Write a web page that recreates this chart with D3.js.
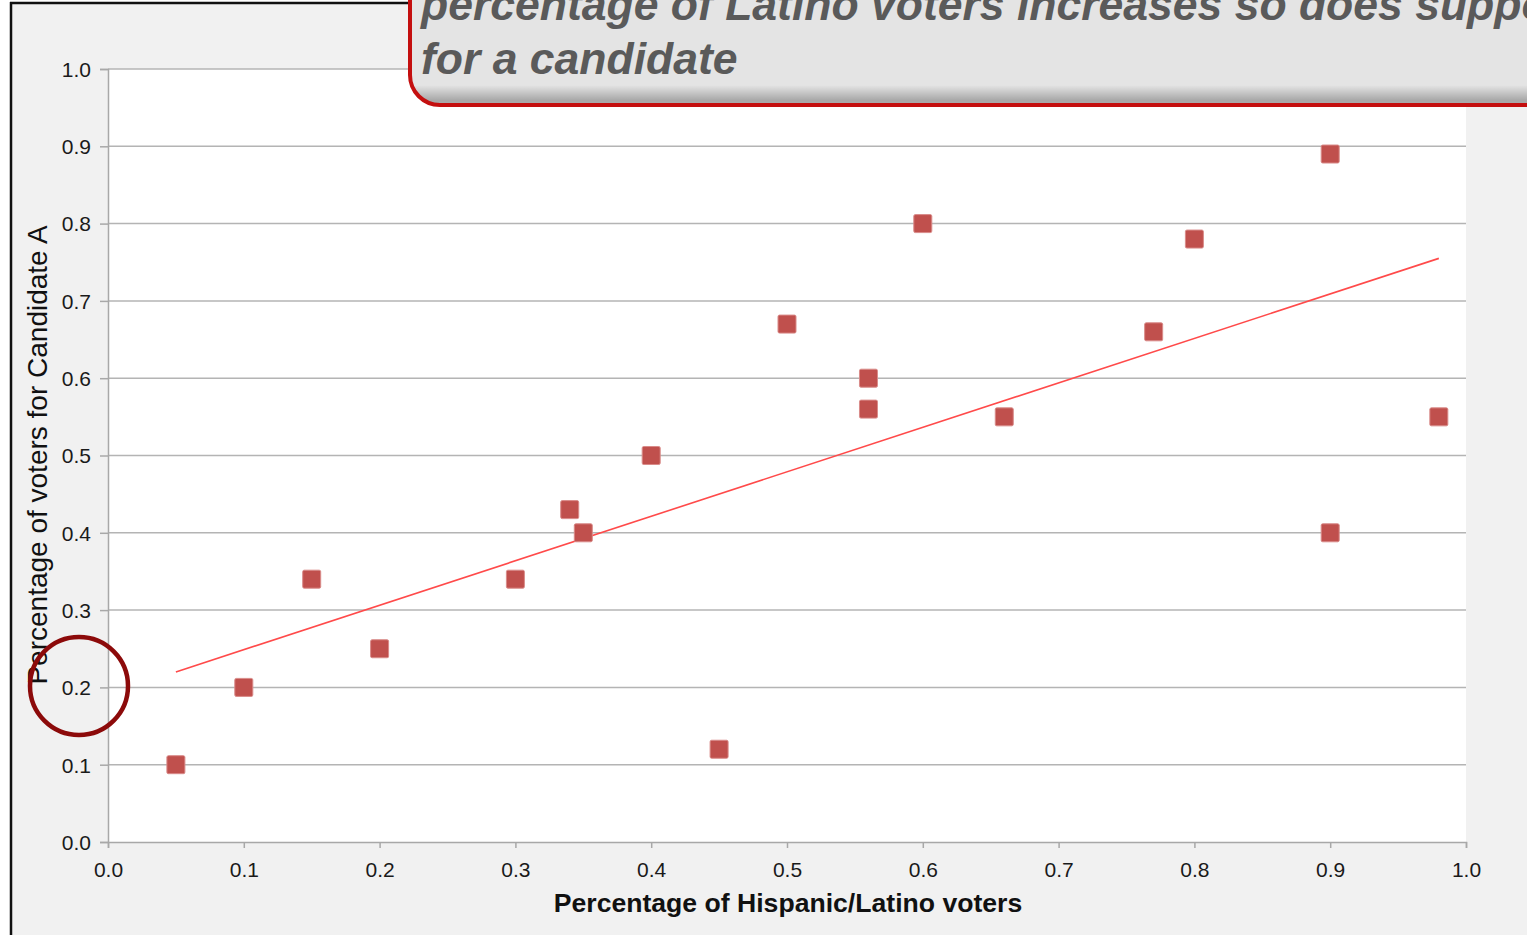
<!DOCTYPE html>
<html>
<head>
<meta charset="utf-8">
<title>Latino voters and support for Candidate A</title>
<script src="https://d3js.org/d3.v7.min.js"></script>
<style>
  body { margin: 0; background: #fff; overflow: hidden; }
  svg text { font-family: "Liberation Sans", Arial, sans-serif; }
</style>
</head>
<body>
<svg id="chart" width="1527" height="935"></svg>
<script>
// data
var latinoShare = [0.05, 0.10, 0.15, 0.20, 0.30, 0.34, 0.35, 0.40, 0.45, 0.50, 0.56, 0.56, 0.60, 0.66, 0.77, 0.80, 0.90, 0.90, 0.98];
var supportA    = [0.10, 0.20, 0.34, 0.25, 0.34, 0.43, 0.40, 0.50, 0.12, 0.67, 0.60, 0.56, 0.80, 0.55, 0.66, 0.78, 0.89, 0.40, 0.55];
var trendX = [0.05, 0.98];
var trendY = [0.22, 0.755];
var tickValues = [0, 0.1, 0.2, 0.3, 0.4, 0.5, 0.6, 0.7, 0.8, 0.9, 1.0];
var calloutLines = ["percentage of Latino voters increases so does support", "for a candidate"];

var svg = d3.select("#chart");
var pLeft = 108, pRight = 1466, pTop = 69, pBottom = 842;

// slide background + frame
svg.append("rect").attr("x", 11).attr("y", 3).attr("width", 1527).attr("height", 935).attr("fill", "#f1f1f1");
svg.append("line").attr("x1", 11).attr("x2", 11).attr("y1", 2).attr("y2", 935).attr("stroke", "#111").attr("stroke-width", 2.5);
svg.append("line").attr("x1", 10).attr("x2", 420).attr("y1", 3).attr("y2", 3).attr("stroke", "#111").attr("stroke-width", 2.5);

var x = d3.scaleLinear().domain([0, 1]).range([pLeft, pRight]);
var y = d3.scaleLinear().domain([0, 1]).range([pBottom, pTop]);

// plot area
svg.append("rect").attr("x", pLeft).attr("y", pTop).attr("width", pRight - pLeft).attr("height", pBottom - pTop).attr("fill", "#fff");

// gridlines
svg.append("g").selectAll("line").data(tickValues.slice(1)).enter().append("line")
  .attr("x1", pLeft).attr("x2", pRight).attr("y1", d => y(d)).attr("y2", d => y(d))
  .attr("stroke", "#b4b4b4").attr("stroke-width", 1.5);

// y axis
var yAxis = svg.append("g").attr("transform", "translate(" + pLeft + ",0)")
  .call(d3.axisLeft(y).tickValues(tickValues).tickFormat(d3.format(".1f")).tickSize(8).tickPadding(9));
// x axis
var xAxis = svg.append("g").attr("transform", "translate(0," + pBottom + ")")
  .call(d3.axisBottom(x).tickValues(tickValues).tickFormat(d3.format(".1f")).tickSize(6).tickPadding(14));
[yAxis, xAxis].forEach(function(a) {
  a.attr("font-size", 21);
  a.select(".domain").attr("stroke", "#a8a8a8").attr("stroke-width", 1.5);
  a.selectAll(".tick line").attr("stroke", "#a8a8a8").attr("stroke-width", 1.5);
  a.selectAll(".tick text").attr("fill", "#1a1a1a").style("font-size", "21px");
});
yAxis.selectAll(".tick text").attr("dy", "0.35em");

// trendline
svg.append("line")
  .attr("x1", x(trendX[0])).attr("y1", y(trendY[0]))
  .attr("x2", x(trendX[1])).attr("y2", y(trendY[1]))
  .attr("stroke", "#ff4a4a").attr("stroke-width", 1.6);

// markers
var s = 18;
svg.append("g").selectAll("rect").data(latinoShare).enter().append("rect")
  .attr("x", (d, i) => x(d) - s / 2).attr("y", (d, i) => y(supportA[i]) - s / 2)
  .attr("width", s).attr("height", s).attr("rx", 1.5)
  .attr("fill", "#c0504d").attr("stroke", "#d98b89").attr("stroke-width", 1);

// axis titles
svg.append("text").attr("x", (pLeft + pRight) / 2 + 1).attr("y", 912).attr("text-anchor", "middle")
  .style("font-size", "26.6px").style("font-weight", "bold").attr("fill", "#111")
  .text("Percentage of Hispanic/Latino voters");
svg.append("text").attr("transform", "translate(47,455) rotate(-90)").attr("text-anchor", "middle")
  .style("font-size", "28px").attr("fill", "#111")
  .text("Percentage of voters for Candidate A");

// highlight circle
svg.append("circle").attr("cx", 79).attr("cy", 686).attr("r", 49)
  .attr("fill", "none").attr("stroke", "#8c0a0a").attr("stroke-width", 4.5);

// callout box
var defs = svg.append("defs");
var g1 = defs.append("linearGradient").attr("id", "boxFill").attr("x1", 0).attr("x2", 0).attr("y1", 0).attr("y2", 1);
g1.append("stop").attr("offset", "0.88").attr("stop-color", "#e4e4e4");
g1.append("stop").attr("offset", "0.97").attr("stop-color", "#a9a9a9");
svg.append("rect").attr("x", 410).attr("y", -60).attr("width", 1200).attr("height", 165).attr("rx", 30)
  .attr("fill", "url(#boxFill)").attr("stroke", "#c40f0f").attr("stroke-width", 4);
svg.append("g").selectAll("text").data(calloutLines).enter().append("text")
  .attr("x", 421).attr("y", (d, i) => 20 + i * 54)
  .style("font-size", "44.5px").style("font-weight", "bold").style("font-style", "italic")
  .attr("fill", "#5a5a5a").text(d => d);
</script>
</body>
</html>
